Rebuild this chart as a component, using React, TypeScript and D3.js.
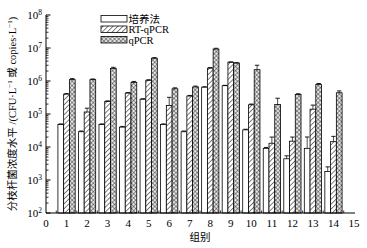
import React, { useEffect, useRef } from 'react';
import * as d3 from 'd3';

// 组别 1..14, three methods per group
const groups = [1, 2, 3, 4, 5, 6, 7, 8, 9, 10, 11, 12, 13, 14];
const seriesNames = ['培养法', 'RT-qPCR', 'qPCR'];

const culture = [4.8e4, 2.9e4, 4.8e4, 4.0e4, 2.8e5, 4.8e4, 2.9e4, 6.5e5, 7.2e5, 3.3e4, 9.1e3, 4.4e3, 9.1e3, 1.8e3];
const cultureErr = [2e3, 1.5e3, 2e3, 2e3, 1e4, 2e3, 1.5e3, 2e4, 2e4, 1.5e3, 6e2, 1.0e3, 1.1e4, 7e2];
const rtqpcr = [4.0e5, 1.15e5, 2.4e5, 4.3e5, 1.05e6, 1.8e5, 3.5e5, 2.45e6, 3.7e6, 1.9e5, 1.3e4, 1.5e4, 1.4e5, 1.45e4];
const rtqpcrErr = [1.5e4, 3.5e4, 1e4, 1.5e4, 4e4, 1.4e5, 1.5e4, 1e5, 1e5, 1e4, 7e3, 5e3, 4.6e4, 6.5e3];
const qpcr = [1.1e6, 1.1e6, 2.4e6, 9.1e5, 4.9e6, 5.8e5, 6.6e5, 9.3e6, 3.5e6, 2.2e6, 1.95e5, 3.9e5, 7.9e5, 4.4e5];
const qpcrErr = [8e4, 5e4, 2e5, 6e4, 2e5, 4e4, 4e4, 5e5, 1e5, 8e5, 1.05e5, 2e4, 5e4, 6e4];

const yTicks = [1e2, 1e3, 1e4, 1e5, 1e6, 1e7, 1e8];
const xTicks = [0, 1, 2, 3, 4, 5, 6, 7, 8, 9, 10, 11, 12, 13, 14, 15];

const W = 367, H = 248;
const left = 46, right = 354, top = 15, bottom = 213;
const serif = '"Liberation Serif", "Times New Roman", serif';
const cjk = '"Liberation Serif", "Noto Sans CJK SC", serif';

const fills = ['#fff', 'url(#hatch)', 'url(#cross)'];

function App() {
  const ref = useRef<SVGSVGElement>(null);

  useEffect(() => {
    const svg = d3.select(ref.current);
    svg.selectAll('*').remove();

    const x = d3.scaleLinear().domain([0, 15]).range([left, right]);
    const y = d3.scaleLog().domain([1e2, 1e8]).range([bottom, top]);
    const bw = x(0.28) - x(0);

    const defs = svg.append('defs');
    const h = defs.append('pattern').attr('id', 'hatch').attr('patternUnits', 'userSpaceOnUse')
      .attr('width', 3.5).attr('height', 3.5).attr('patternTransform', 'rotate(45)');
    h.append('rect').attr('width', 3.5).attr('height', 3.5).attr('fill', '#fff');
    h.append('line').attr('x1', 0).attr('y1', 0).attr('x2', 0).attr('y2', 3.5)
      .attr('stroke', '#000').attr('stroke-width', 1);
    const c = defs.append('pattern').attr('id', 'cross').attr('patternUnits', 'userSpaceOnUse')
      .attr('width', 3).attr('height', 3).attr('patternTransform', 'rotate(45)');
    c.append('rect').attr('width', 3).attr('height', 3).attr('fill', '#e8e8e8');
    c.append('line').attr('x1', 0).attr('y1', 0).attr('x2', 0).attr('y2', 3)
      .attr('stroke', '#222').attr('stroke-width', 0.9);
    c.append('line').attr('x1', 0).attr('y1', 0).attr('x2', 3).attr('y2', 0)
      .attr('stroke', '#222').attr('stroke-width', 0.9);

    const series = [culture, rtqpcr, qpcr];
    const errs = [cultureErr, rtqpcrErr, qpcrErr];

    series.forEach((vals, s) => {
      const g = svg.append('g');
      g.selectAll('rect').data(vals).enter().append('rect')
        .attr('x', (d, i) => x(groups[i]) + (s - 1.5) * bw)
        .attr('y', d => y(d))
        .attr('width', bw)
        .attr('height', d => bottom - y(d))
        .attr('fill', fills[s])
        .attr('stroke', '#000')
        .attr('stroke-width', 0.8);
      // upper error bars
      vals.forEach((d, i) => {
        const cx = x(groups[i]) + (s - 1) * bw;
        const y1 = y(d + errs[s][i]), y0 = y(d);
        g.append('line').attr('x1', cx).attr('x2', cx).attr('y1', y1).attr('y2', y0)
          .attr('stroke', '#000').attr('stroke-width', 0.7);
        g.append('line').attr('x1', cx - 2.2).attr('x2', cx + 2.2).attr('y1', y1).attr('y2', y1)
          .attr('stroke', '#000').attr('stroke-width', 0.9);
      });
    });

    // y axis with inward log ticks
    const ax = svg.append('g');
    ax.append('line').attr('x1', left).attr('x2', left).attr('y1', top).attr('y2', bottom)
      .attr('stroke', '#000').attr('stroke-width', 1);
    const minor: number[] = [];
    yTicks.slice(0, -1).forEach(t => [2, 3, 4, 5, 6, 7, 8, 9].forEach(m => minor.push(t * m)));
    ax.selectAll('.mn').data(minor).enter().append('line')
      .attr('x1', left).attr('x2', left + 2.5).attr('y1', d => y(d)).attr('y2', d => y(d))
      .attr('stroke', '#000').attr('stroke-width', 0.8);
    ax.selectAll('.mj').data(yTicks).enter().append('line')
      .attr('x1', left).attr('x2', left + 4.5).attr('y1', d => y(d)).attr('y2', d => y(d))
      .attr('stroke', '#000').attr('stroke-width', 1);
    const lab = ax.selectAll('.yl').data(yTicks).enter().append('text')
      .attr('x', 42).attr('y', d => y(d) + 4)
      .attr('text-anchor', 'end').attr('font-family', serif).attr('font-size', 11);
    lab.append('tspan').text('10');
    lab.append('tspan').attr('dy', -4.5).attr('font-size', 7.5).text(d => String(Math.round(Math.log10(d))));

    // x axis
    ax.append('line').attr('x1', left).attr('x2', right + 1).attr('y1', bottom).attr('y2', bottom)
      .attr('stroke', '#000').attr('stroke-width', 1);
    ax.selectAll('.xt').data(xTicks.slice(0, -1)).enter().append('line')
      .attr('x1', d => x(d + 0.5)).attr('x2', d => x(d + 0.5)).attr('y1', bottom).attr('y2', bottom - 2.5)
      .attr('stroke', '#000').attr('stroke-width', 0.8);
    ax.selectAll('.xl').data(xTicks).enter().append('text')
      .attr('x', d => x(d)).attr('y', bottom + 14)
      .attr('text-anchor', 'middle').attr('font-family', serif).attr('font-size', 11)
      .text(d => String(d));

    // axis titles
    svg.append('text').attr('x', 200).attr('y', 241).attr('text-anchor', 'middle')
      .attr('font-family', cjk).attr('font-size', 10.5).text('组别');
    const yt = svg.append('text').attr('transform', 'translate(16,114) rotate(-90)')
      .attr('text-anchor', 'middle').attr('font-family', cjk).attr('font-size', 10.5);
    yt.append('tspan').text('分枝杆菌浓度水平 /(CFU·L');
    yt.append('tspan').attr('dy', -4).attr('font-size', 7).text('−1');
    yt.append('tspan').attr('dy', 4).text(' 或 copies·L');
    yt.append('tspan').attr('dy', -4).attr('font-size', 7).text('−1');
    yt.append('tspan').attr('dy', 4).text(')');

    // legend
    const lg = svg.append('g');
    seriesNames.forEach((n, i) => {
      const ly = 15.5 + i * 10.5;
      lg.append('rect').attr('x', 101).attr('y', ly).attr('width', 26).attr('height', 6.5)
        .attr('fill', fills[i]).attr('stroke', '#000').attr('stroke-width', 0.8);
      lg.append('text').attr('x', 128.5).attr('y', ly + 7).attr('font-family', cjk)
        .attr('font-size', 10.5).text(n);
    });
  }, []);

  return (
    <svg ref={ref} width={W} height={H}
      style={{ position: 'absolute', left: 0, top: 0, background: '#fff' }} />
  );
}

export default App;
